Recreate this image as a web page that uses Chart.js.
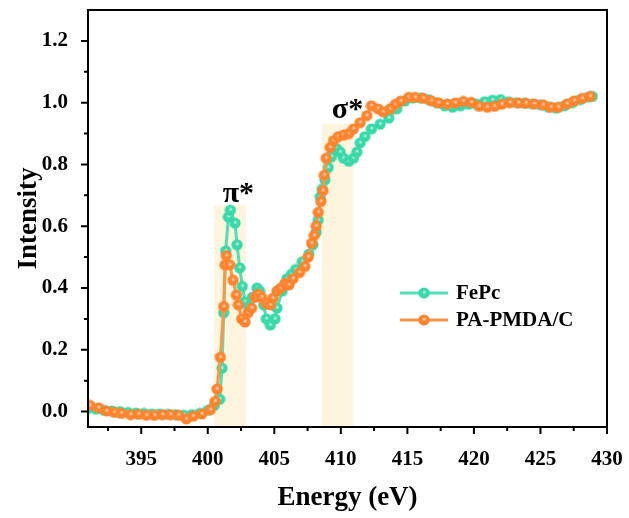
<!DOCTYPE html>
<html><head><meta charset="utf-8">
<script src="https://cdn.jsdelivr.net/npm/chart.js@4.4.0/dist/chart.umd.min.js"></script>
<style>html,body{margin:0;padding:0;background:#fff}#wrap{width:629px;height:518px}</style>
</head><body><div id="wrap"><canvas id="c" width="629" height="518"></canvas></div>
<script>
// ---------------- data ----------------
const seriesNames = ['FePc', 'PA-PMDA/C'];
const fepcEnergy = [391.0,391.6,392.2,392.8,393.4,394.0,394.6,395.2,395.8,396.4,397.0,397.6,398.2,398.8,399.4,400.0,400.5,400.9,401.07,401.2,401.35,401.55,401.7,402.05,402.2,402.4,402.6,402.8,403.05,403.35,403.7,403.9,404.2,404.4,404.7,405.05,405.2,405.6,405.95,406.3,406.6,407.1,407.6,407.9,408.15,408.3,408.45,408.6,408.8,409.05,409.3,409.7,409.95,410.2,410.6,410.95,411.2,411.45,411.8,412.3,412.95,413.6,414.2,414.8,415.4,416.0,416.6,417.2,417.8,418.4,419.0,419.6,420.2,420.8,421.4,422.0,422.6,423.2,423.8,424.4,425.0,425.6,426.2,426.8,427.4,428.0,428.6,428.9];
const fepcIntensity = [0.010,0.008,0.004,0.002,0.000,-0.003,-0.005,-0.006,-0.008,-0.008,-0.009,-0.010,-0.012,-0.010,-0.006,0.004,0.020,0.040,0.140,0.320,0.520,0.630,0.652,0.610,0.540,0.465,0.405,0.355,0.340,0.370,0.400,0.390,0.345,0.300,0.280,0.300,0.335,0.390,0.430,0.445,0.460,0.485,0.510,0.540,0.580,0.620,0.695,0.720,0.750,0.790,0.825,0.850,0.840,0.820,0.810,0.820,0.840,0.870,0.890,0.915,0.930,0.950,0.980,1.005,1.015,1.015,1.010,1.000,0.990,0.985,0.990,0.995,0.995,1.003,1.008,1.010,1.003,1.000,0.998,0.996,0.993,0.985,0.982,0.990,1.000,1.010,1.018,1.020];
const pmdaEnergy = [391.15,391.8,392.4,393.0,393.5,394.2,394.8,395.4,396.0,396.6,397.2,397.8,398.4,398.9,399.55,400.2,400.55,400.7,400.95,401.2,401.3,401.4,401.65,401.9,402.15,402.3,402.55,402.8,403.05,403.3,403.55,403.8,404.05,404.4,404.7,404.9,405.2,405.5,405.8,406.1,406.4,406.9,407.3,407.55,407.8,408.0,408.15,408.3,408.5,408.65,408.75,408.9,409.2,409.45,409.8,410.2,410.6,410.95,411.45,411.95,412.3,412.8,413.2,413.7,414.1,414.5,415.1,415.6,416.2,416.8,417.35,418.0,418.6,419.2,419.8,420.4,421.0,421.55,422.1,422.7,423.35,423.9,424.55,425.2,425.8,426.35,427.0,427.55,428.15,428.75];
const pmdaIntensity = [0.020,0.012,0.002,-0.003,-0.006,-0.010,-0.009,-0.012,-0.012,-0.010,-0.010,-0.012,-0.024,-0.015,-0.008,0.006,0.033,0.073,0.176,0.340,0.475,0.505,0.475,0.425,0.377,0.345,0.300,0.290,0.320,0.335,0.370,0.380,0.370,0.350,0.345,0.367,0.390,0.400,0.415,0.410,0.430,0.450,0.470,0.500,0.545,0.570,0.600,0.645,0.680,0.715,0.765,0.820,0.855,0.877,0.890,0.895,0.900,0.915,0.935,0.958,0.990,0.980,0.970,0.980,0.995,1.005,1.017,1.017,1.014,1.006,0.999,0.996,0.999,1.004,1.001,0.988,0.985,0.988,0.995,1.000,0.999,0.998,0.996,0.993,0.985,0.985,0.996,1.006,1.014,1.020];
const xTickValues = [395,400,405,410,415,420,425,430];
const xMinorValues = [392.5,397.5,402.5,407.5,412.5,417.5,422.5,427.5];
const yTickValues = [0.0,0.2,0.4,0.6,0.8,1.0,1.2];
const yMinorValues = [0.1,0.3,0.5,0.7,0.9,1.1];
const bandStart = [400.47, 408.57];
const bandEnd = [402.88, 410.95];
const bandTop = [0.668, 0.932];
const peakText = ['π*', 'σ*'];
const peakX = [402.3, 410.5];
const peakY = [0.68, 0.95];

// ---------------- style ----------------
const FONT = '"Liberation Serif", "Times New Roman", serif';
const greenLine = '#4fe0b6', greenDot = '#38d9a9';
const orangeLine = '#ff9443', orangeDot = '#ff842e';

function ball(color) {
  const r = 5.6, s = 12;
  const cv = document.createElement('canvas');
  cv.width = s; cv.height = s;
  const g = cv.getContext('2d');
  g.fillStyle = color;
  g.beginPath(); g.arc(s/2, s/2, r, 0, Math.PI*2); g.fill();
  const cx = s/2 + 0.3, cy = s/2 - 0.8;
  const grd = g.createRadialGradient(cx, cy, 0, cx, cy, 2.4);
  grd.addColorStop(0, 'rgba(255,255,255,0.85)');
  grd.addColorStop(0.5, 'rgba(255,255,255,0.35)');
  grd.addColorStop(1, 'rgba(255,255,255,0)');
  g.fillStyle = grd;
  g.beginPath(); g.arc(cx, cy, 2.4, 0, Math.PI*2); g.fill();
  return cv;
}
const greenBall = ball(greenDot), orangeBall = ball(orangeDot);

const toPts = (xs, ys) => xs.map((x, i) => ({x, y: ys[i]}));

const decor = {
  id: 'decor',
  beforeDatasetsDraw(chart) {
    const {ctx, chartArea: a, scales: {x, y}} = chart;
    ctx.save();
    ctx.fillStyle = 'rgba(252,240,205,0.65)';
    for (let i = 0; i < bandStart.length; i++) {
      const x0 = x.getPixelForValue(bandStart[i]), x1 = x.getPixelForValue(bandEnd[i]);
      const y0 = y.getPixelForValue(bandTop[i]);
      ctx.fillRect(x0, y0, x1 - x0, a.bottom - y0);
    }
    ctx.restore();
  },
  afterDraw(chart) {
    const {ctx, chartArea: a, scales: {x, y}} = chart;
    ctx.save();
    ctx.strokeStyle = '#000'; ctx.lineWidth = 2;
    ctx.strokeRect(a.left, a.top, a.right - a.left, a.bottom - a.top);
    ctx.beginPath();
    xTickValues.forEach(v => { const p = x.getPixelForValue(v); ctx.moveTo(p, a.bottom); ctx.lineTo(p, a.bottom + 7); });
    xMinorValues.forEach(v => { const p = x.getPixelForValue(v); ctx.moveTo(p, a.bottom); ctx.lineTo(p, a.bottom + 4); });
    yTickValues.forEach(v => { const p = y.getPixelForValue(v); ctx.moveTo(a.left, p); ctx.lineTo(a.left - 7, p); });
    yMinorValues.forEach(v => { const p = y.getPixelForValue(v); ctx.moveTo(a.left, p); ctx.lineTo(a.left - 4, p); });
    ctx.stroke();
    // peak labels
    ctx.fillStyle = '#000';
    ctx.font = 'bold 30px ' + FONT;
    ctx.textAlign = 'center'; ctx.textBaseline = 'alphabetic';
    for (let i = 0; i < peakText.length; i++) {
      ctx.fillText(peakText[i], x.getPixelForValue(peakX[i]), y.getPixelForValue(peakY[i]));
    }
    // legend
    const items = [[seriesNames[0], greenLine, greenBall], [seriesNames[1], orangeLine, orangeBall]];
    const lx = 400, ly = 293, gap = 27;
    ctx.font = 'bold 21px ' + FONT;
    ctx.textAlign = 'left'; ctx.textBaseline = 'middle';
    items.forEach((it, i) => {
      const yy = ly + i * gap;
      ctx.strokeStyle = it[1]; ctx.lineWidth = 3;
      ctx.beginPath(); ctx.moveTo(lx, yy); ctx.lineTo(lx + 48, yy); ctx.stroke();
      ctx.drawImage(it[2], lx + 24 - 6, yy - 6);
      ctx.fillStyle = '#000';
      ctx.fillText(it[0], lx + 56, yy + 1);
    });
    ctx.restore();
  }
};

new Chart(document.getElementById('c'), {
  type: 'scatter',
  data: {
    datasets: [
      { label: seriesNames[0], data: toPts(fepcEnergy, fepcIntensity), showLine: true,
        borderColor: greenLine, borderWidth: 3, pointStyle: greenBall, order: 2 },
      { label: seriesNames[1], data: toPts(pmdaEnergy, pmdaIntensity), showLine: true,
        borderColor: orangeLine, borderWidth: 3, pointStyle: orangeBall, order: 1 }
    ]
  },
  options: {
    responsive: false, animation: false,
    layout: { padding: { top: 10, right: 22, left: 0, bottom: 0 } },
    plugins: { legend: { display: false }, tooltip: { enabled: false } },
    scales: {
      x: {
        type: 'linear', min: 391, max: 430,
        afterBuildTicks: s => { s.ticks = xTickValues.map(v => ({value: v})); },
        afterFit: s => { s.height = 91; s.paddingLeft = 0; s.paddingRight = 0; },
        grid: { display: false }, border: { display: false },
        ticks: { color: '#000', padding: 12, maxRotation: 0, autoSkip: false,
          font: { family: FONT, size: 21, weight: 'bold' } },
        title: { display: true, text: 'Energy (eV)', color: '#000', padding: { top: 0, bottom: 4 },
          font: { family: FONT, size: 27, weight: 'bold' } }
      },
      y: {
        type: 'linear', min: -0.05, max: 1.3,
        afterBuildTicks: s => { s.ticks = yTickValues.map(v => ({value: v})); },
        afterFit: s => { s.width = 88; s.paddingTop = 0; s.paddingBottom = 0; },
        grid: { display: false }, border: { display: false },
        ticks: { color: '#000', padding: 12, autoSkip: false,
          callback: v => Number(v).toFixed(1),
          font: { family: FONT, size: 21, weight: 'bold' } },
        title: { display: true, text: 'Intensity', color: '#000', padding: { top: 13, bottom: 0 },
          font: { family: FONT, size: 27, weight: 'bold' } }
      }
    }
  },
  plugins: [decor]
});
</script></body></html>
